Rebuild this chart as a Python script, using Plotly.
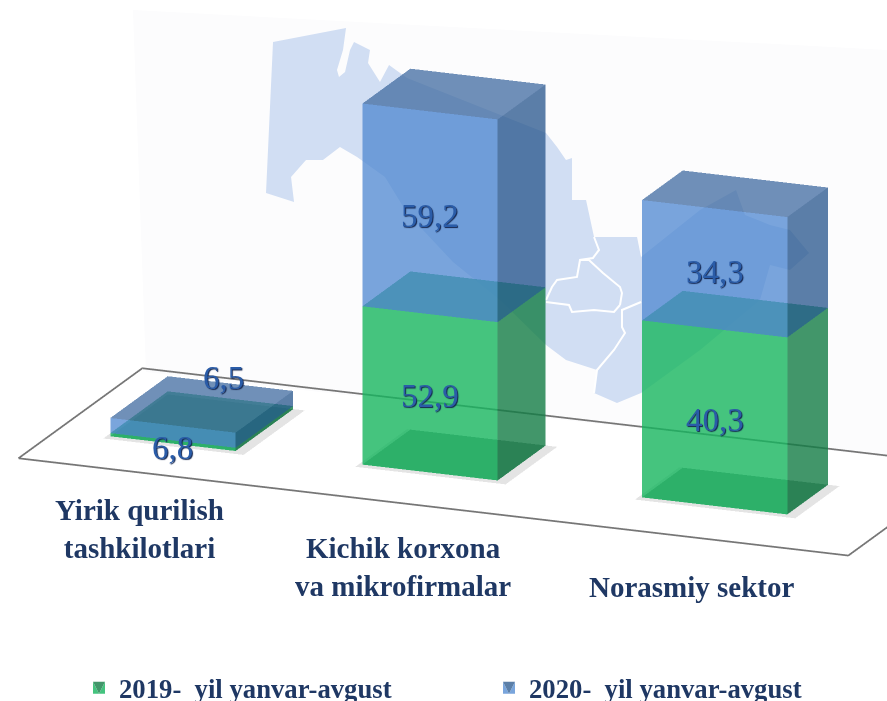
import plotly.graph_objects as go

# ---- data ----
categories = ["Yirik qurilish<br>tashkilotlari", "Kichik korxona<br>va mikrofirmalar", "Norasmiy sektor"]
series_names = ["2019-\u00a0\u00a0yil yanvar-avgust", "2020-\u00a0\u00a0yil yanvar-avgust"]
values_2019 = [6.8, 52.9, 40.3]
values_2020 = [6.5, 59.2, 34.3]
# block heights as drawn in the picture (the source artwork is not to scale with its labels)
drawn_2019 = [1.0, 49.2, 55.0]
drawn_2020 = [4.7, 63.0, 37.4]

# ---- scene geometry ----
BAR_U = [(.064, .215), (.366, .529), (.703, .878)]
BAR_V = [(.313, .777), (.325, .712), (.325, .653)]
Z_MAX = 200.0
ZOOM = .48
ASPECT = dict(x=5.315 * ZOOM, y=1.975 * ZOOM, z=4.0 * ZOOM)
EYE, CENTER = (1.484, -4.522, 2.142), (-.308, -.059, .674)
Z_OFF = 2.0
W, H = 887, 701
FONT = "Liberation Serif"
NAVY = "#1f3864"
LABEL = "#2a5ca8"

GREEN = ["rgb(22,181,94)", "rgb(19,124,69)", "rgb(24,161,86)"]
BLUE = ["rgb(77,135,208)", "rgb(37,84,139)", "rgb(64,107,160)"]
LIGHT = dict(ambient=1, diffuse=0, specular=0, fresnel=0)


def floor_quad(u, v, color, alpha, pad=(0, 0, 0, 0)):
    return go.Mesh3d(x=[u[0]-pad[0], u[1]+pad[1], u[1]+pad[1], u[0]-pad[0]],
                     y=[v[0]-pad[2], v[0]-pad[2], v[1]+pad[3], v[1]+pad[3]], z=[0.05]*4,
                     i=[0, 0], j=[1, 2], k=[2, 3], color=color, opacity=alpha, flatshading=True,
                     lighting=LIGHT, hoverinfo="skip", showlegend=False)


def block(u, v, lo, hi, cols, alpha, name, legend):
    x = [u[0], u[1], u[1], u[0]] * 2
    y = [v[0], v[0], v[1], v[1]] * 2
    z = [lo]*4 + [hi]*4
    return go.Mesh3d(x=x, y=y, z=z, i=[0, 0, 1, 1, 4, 4], j=[1, 5, 2, 6, 5, 6], k=[5, 4, 6, 5, 6, 7],
                     facecolor=[cols[0]]*2 + [cols[1]]*2 + [cols[2]]*2, opacity=alpha, flatshading=True,
                     lighting=LIGHT, hoverinfo="skip", name=name, showlegend=legend, legendgroup=name)


fig = go.Figure()
fig.add_trace(go.Scatter3d(x=[0, 0, 1, 1, 0], y=[0, 1, 1, 0, 0], z=[0]*5, mode="lines",
                           line=dict(color="#767676", width=3.5), hoverinfo="skip", showlegend=False))
for u, v in zip(BAR_U, BAR_V):
    fig.add_trace(floor_quad(u, v, "rgb(90,90,90)", .16, (.004, .014, .03, 0)))
    fig.add_trace(floor_quad(u, v, "rgb(0,40,20)", .4))
for n, (u, v, g) in enumerate(zip(BAR_U, BAR_V, drawn_2019)):
    fig.add_trace(block(u, v, 0, g, GREEN, .8, series_names[0], n == 0))
for n, (u, v, g, b) in enumerate(zip(BAR_U, BAR_V, drawn_2019, drawn_2020)):
    fig.add_trace(block(u, v, g, g + b, BLUE, .75, series_names[1], n == 0))

# ---- labels anchored in the scene ----
scene_notes = []
for n, (u, v, g, b) in enumerate(zip(BAR_U, BAR_V, drawn_2019, drawn_2020)):
    um = sum(u) / 2
    if n == 0:
        pos = [(um, v[0], 0, values_2019[n], 0, -4), (um, v[1], g + b, values_2020[n], -7, 6)]
    else:
        pos = [(um, v[0], g / 2, values_2019[n], 0, -3), (um, v[0], g + b / 2, values_2020[n], 0, -3)]
    for x, y, z, val, sx, sy in pos:
        scene_notes.append(dict(x=x, y=y, z=z, text=f"{val:.1f}".replace(".", ","), showarrow=False,
                                xshift=sx, yshift=sy,
                                font=dict(family=FONT, size=33, color=LABEL, shadow="1px 1px 1px #14264f")))


def px(x, y):
    return f"{x / W:.4f} {1 - y / H:.4f}"


def path(points, close=True):
    return "M" + " L".join(px(*p) for p in points) + (" Z" if close else "")


# ---- background artwork: wall and country outline ----
WALL = [(133, 10), (887, 50), (887, 457), (146, 372)]
MAP = [(273, 42), (346, 28), (343, 50), (337, 70), (339, 77), (345, 72), (350, 50), (354, 42), (370, 50), (368, 63),
       (380, 82), (389, 65), (407, 78), (546, 133), (557, 147), (566, 160), (572, 158), (572, 200), (586, 200),
       (594, 237), (637, 237), (641, 257), (700, 210), (736, 190), (745, 215), (770, 225), (790, 230), (809, 253),
       (790, 270), (770, 265), (760, 300), (700, 350), (641, 393), (617, 403), (594, 393), (597, 370), (566, 360),
       (546, 345), (500, 300), (453, 262), (407, 213), (385, 177), (357, 157), (340, 147), (323, 160), (306, 160),
       (291, 177), (294, 202), (266, 193)]
BORDERS = [[(594, 237), (599, 250), (593, 258), (580, 260), (577, 277), (557, 280), (552, 287), (546, 300)],
           [(580, 260), (589, 260), (603, 273), (620, 287), (622, 293), (620, 305)],
           [(546, 302), (569, 305), (572, 312), (594, 310), (614, 312), (620, 305)],
           [(641, 302), (622, 310), (622, 327), (625, 333), (614, 350), (597, 370), (594, 393)]]
shapes = [dict(type="path", xref="paper", yref="paper", layer="below", path=path(WALL), fillcolor="#fcfcfd",
               line=dict(width=0)),
          dict(type="path", xref="paper", yref="paper", layer="below", path=path(MAP), fillcolor="#d1def3",
               line=dict(width=0))]
for b in BORDERS:
    shapes.append(dict(type="path", xref="paper", yref="paper", layer="below", path=path(b, False),
                       line=dict(color="white", width=2)))

# ---- category captions ----
CAPTION_POS = [(139, 529), (403, 567), (692, 587)]
notes = [dict(x=x / W, y=1 - y / H, xref="paper", yref="paper", xanchor="center", yanchor="middle",
              text=f"<b>{t}</b>", showarrow=False, font=dict(family=FONT, size=29, color=NAVY))
         for t, (x, y) in zip(categories, CAPTION_POS)]

fig.update_layout(
    width=W, height=H, margin=dict(l=0, r=0, t=0, b=0, autoexpand=False), paper_bgcolor="white", shapes=shapes,
    annotations=notes,
    legend=dict(orientation="h", x=79 / W, y=1 - 688 / H, xanchor="left", yanchor="middle", entrywidth=365,
                bgcolor="rgba(0,0,0,0)", traceorder="normal",
                font=dict(family=FONT, size=26.7, color=NAVY, weight="bold")),
    scene=dict(domain=dict(x=[0, 1], y=[0, 1]), aspectmode="manual", aspectratio=ASPECT, bgcolor="rgba(0,0,0,0)",
               xaxis=dict(visible=False, range=[0, 1]), yaxis=dict(visible=False, range=[0, 1]),
               zaxis=dict(visible=False, range=[0, Z_MAX]), annotations=scene_notes,
               camera=dict(projection=dict(type="orthographic"), up=dict(x=0, y=0, z=1),
                           eye=dict(x=EYE[0] * ZOOM, y=EYE[1] * ZOOM, z=(EYE[2] - Z_OFF) * ZOOM),
                           center=dict(x=CENTER[0] * ZOOM, y=CENTER[1] * ZOOM, z=(CENTER[2] - Z_OFF) * ZOOM))))
fig.write_html("out.html", config=dict(displayModeBar=False), post_script="document.body.style.margin='0';")
